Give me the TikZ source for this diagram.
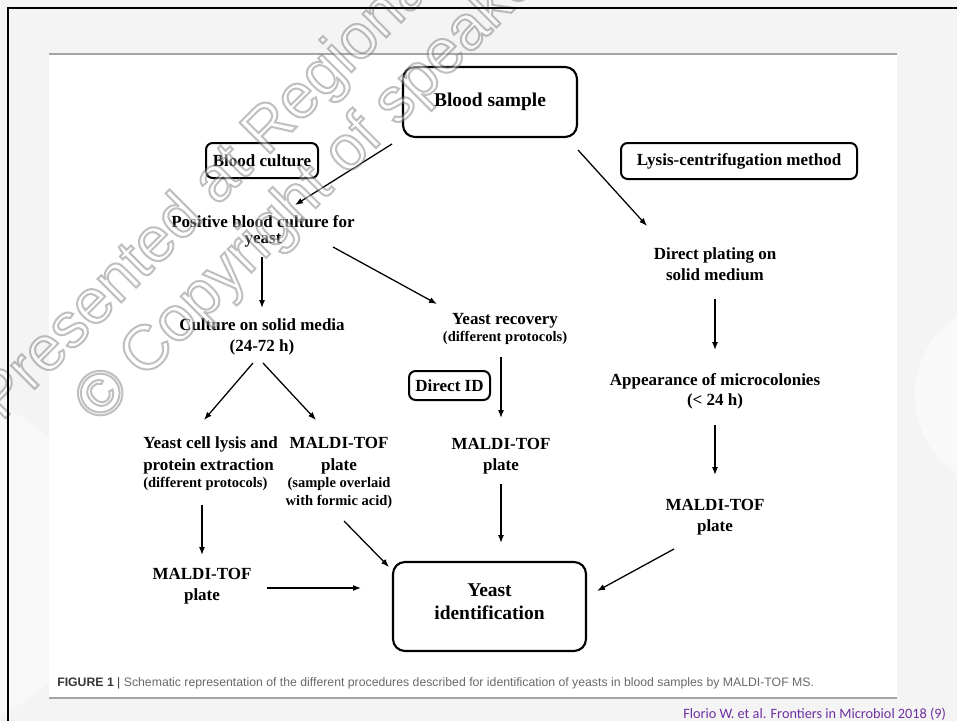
\documentclass[tikz,border=0pt]{standalone}
\usepackage{fontspec}
\setmainfont{Liberation Serif}
\newfontfamily\capfont{Liberation Sans}
\newfontfamily\attrfont{Carlito}
\newfontfamily\wmfont{Liberation Sans}
\usetikzlibrary{arrows.meta,calc}
\definecolor{bggray}{RGB}{244,244,244}
\definecolor{rulegray}{RGB}{165,165,165}
\definecolor{capdark}{RGB}{55,55,55}
\definecolor{capgray}{RGB}{105,105,105}
\definecolor{attrpurple}{RGB}{112,48,160}
\newcommand{\smtxt}{\fontsize{10.9}{12}\selectfont}
\newcommand{\wmon}{\special{pdf:literal direct 2 Tr 1.5 w 0.5 G 1 g}}
\newcommand{\wmoff}{\special{pdf:literal direct 0 Tr}}
\tikzset{
  arr/.style={-{Latex[length=6pt,width=4.5pt]}, line width=0.95pt, black},
  bigbox/.style={draw, line width=1.6pt, rounded corners=9pt, inner sep=0, align=center,
    font=\bfseries\fontsize{14.6}{17.25}\selectfont},
  smallbox/.style={draw, line width=1.5pt, rounded corners=5pt, inner sep=0,
    font=\bfseries\fontsize{12.75}{15}\selectfont},
  lbl/.style={inner sep=0, align=center, font=\bfseries\fontsize{12.75}{15.75}\selectfont},
  wm/.style={anchor=base west, rotate=45, inner sep=0, font=\wmfont\fontsize{47.25}{50}\selectfont}
}
\begin{document}
\begin{tikzpicture}[x=0.75pt,y=-0.75pt]
\useasboundingbox (0,0) rectangle (957,721);
% background
\fill[bggray] (0,0) rectangle (957,721);
\fill[white,opacity=0.5] (1010,395) circle (95);
\fill[white,opacity=0.45] (-70,560) circle (170);
\fill[white] (49,54) rectangle (897,698);
\draw[rulegray, line width=1.1pt] (49,54) -- (897,54);
\draw[rulegray, line width=1.1pt] (49,698) -- (897,698);

% boxes
\node[bigbox, minimum width=130.5pt, minimum height=52.5pt] (bs) at (490,102) {Blood sample};
\node[smallbox, minimum width=84pt, minimum height=26.25pt] (bc) at (262,160.5) {Blood culture};
\node[smallbox, minimum width=177pt, minimum height=27pt] (lc) at (739,161) {Lysis-centrifugation method};
\node[smallbox, minimum width=60.75pt, minimum height=21.75pt] (did) at (449.5,385.5) {Direct ID};
\node[bigbox, minimum width=144.75pt, minimum height=66.75pt, text depth=8pt] (yi) at (489.5,606.5) {Yeast\\identification};

% text nodes
\node[lbl, font=\bfseries\fontsize{12.75}{12}\selectfont] (pos) at (263,231) {Positive blood culture for\\yeast};
\node[lbl] (cult) at (262,337) {Culture on solid media\\(24-72 h)};
\node[lbl, font=\bfseries\fontsize{12.75}{12.75}\selectfont] (rec) at (505,329) {Yeast recovery\\{\smtxt (different protocols)}};
\node[lbl] (dp) at (715,264) {Direct plating on\\solid medium};
\node[lbl, font=\bfseries\fontsize{12.75}{15}\selectfont] (app) at (715,391) {Appearance of microcolonies\\(< 24 h)};
\node[lbl, align=left, anchor=west, font=\bfseries\fontsize{12.75}{16.5}\selectfont] (lys) at (143,464)
  {Yeast cell lysis and\\protein extraction\\[-3.75pt]{\smtxt (different protocols)}};
\node[lbl, font=\bfseries\fontsize{12.75}{16.5}\selectfont] (mp) at (339,473)
  {MALDI-TOF\\plate\\[-3.75pt]{\smtxt (sample overlaid}\\[-3pt]{\smtxt with formic acid)}};
\node[lbl] (m2) at (501,456) {MALDI-TOF\\plate};
\node[lbl] (m3) at (715,517) {MALDI-TOF\\plate};
\node[lbl] (m1) at (202,586) {MALDI-TOF\\plate};

% arrows
\draw[arr] ($(bs)+(-98,42)$) -- ($(pos)+(32,-26)$);
\draw[arr] ($(bs)+(88,48)$) -- ($(dp)+(-68,-38)$);
\draw[arr] ($(pos)+(-1,26)$) -- ($(cult)+(0,-29)$);
\draw[arr] ($(pos)+(70,16)$) -- ($(rec)+(-68,-25)$);
\draw[arr] ($(dp)+(0,35)$) -- ($(app)+(0,-41)$);
\draw[arr] ($(cult)+(-9,26)$) -- ($(lys.west)+(61,-44)$);
\draw[arr] ($(cult)+(1,26)$) -- ($(mp)+(-23,-53)$);
\draw[arr] ($(rec)+(-4,28)$) -- ($(m2)+(0,-38)$);
\draw[arr] ($(m2)+(0,28)$) -- ($(yi)+(11.5,-63.5)$);
\draw[arr] ($(app)+(0,34)$) -- ($(m3)+(0,-42)$);
\draw[arr] ($(m3)+(-41,32)$) -- ($(yi)+(107.5,-15.5)$);
\draw[arr] ($(lys.west)+(59,41)$) -- ($(m1)+(0,-31)$);
\draw[arr] ($(m1)+(65,2)$) -- ($(yi)+(-128.5,-18.5)$);
\draw[arr] ($(mp)+(5,48)$) -- ($(yi)+(-100.5,-39.5)$);

% caption and source
\node[anchor=west, inner sep=0, font=\capfont\fontsize{9.2}{11}\selectfont, text=capgray] (cap) at (57,683)
  {{\bfseries\color{capdark}FIGURE 1} {\color{capdark}|} Schematic representation of the different procedures described for identification of yeasts in blood samples by MALDI-TOF MS.};
\node[anchor=west, inner sep=0, font=\attrfont\fontsize{10.7}{12}\selectfont, text=attrpurple] (src) at (683,714)
  {Florio W. et al. Frontiers in Microbiol 2018 (9)};

% watermark (outlined letters, white translucent fill)
\begin{scope}
\clip (0,0) rectangle (957,721);
\begin{scope}[transparency group, opacity=0.5]
\node[wm] (wa) at (1.6,422) {\wmon Presented at Regional\wmoff};
\node[wm] (wb) at (99,425) {\wmon © Copyright of speaker\wmoff};
\end{scope}
\end{scope}

% frame
\draw[black, line width=1.8pt] (8,721) -- (8,8) -- (957,8);
\end{tikzpicture}
\end{document}
